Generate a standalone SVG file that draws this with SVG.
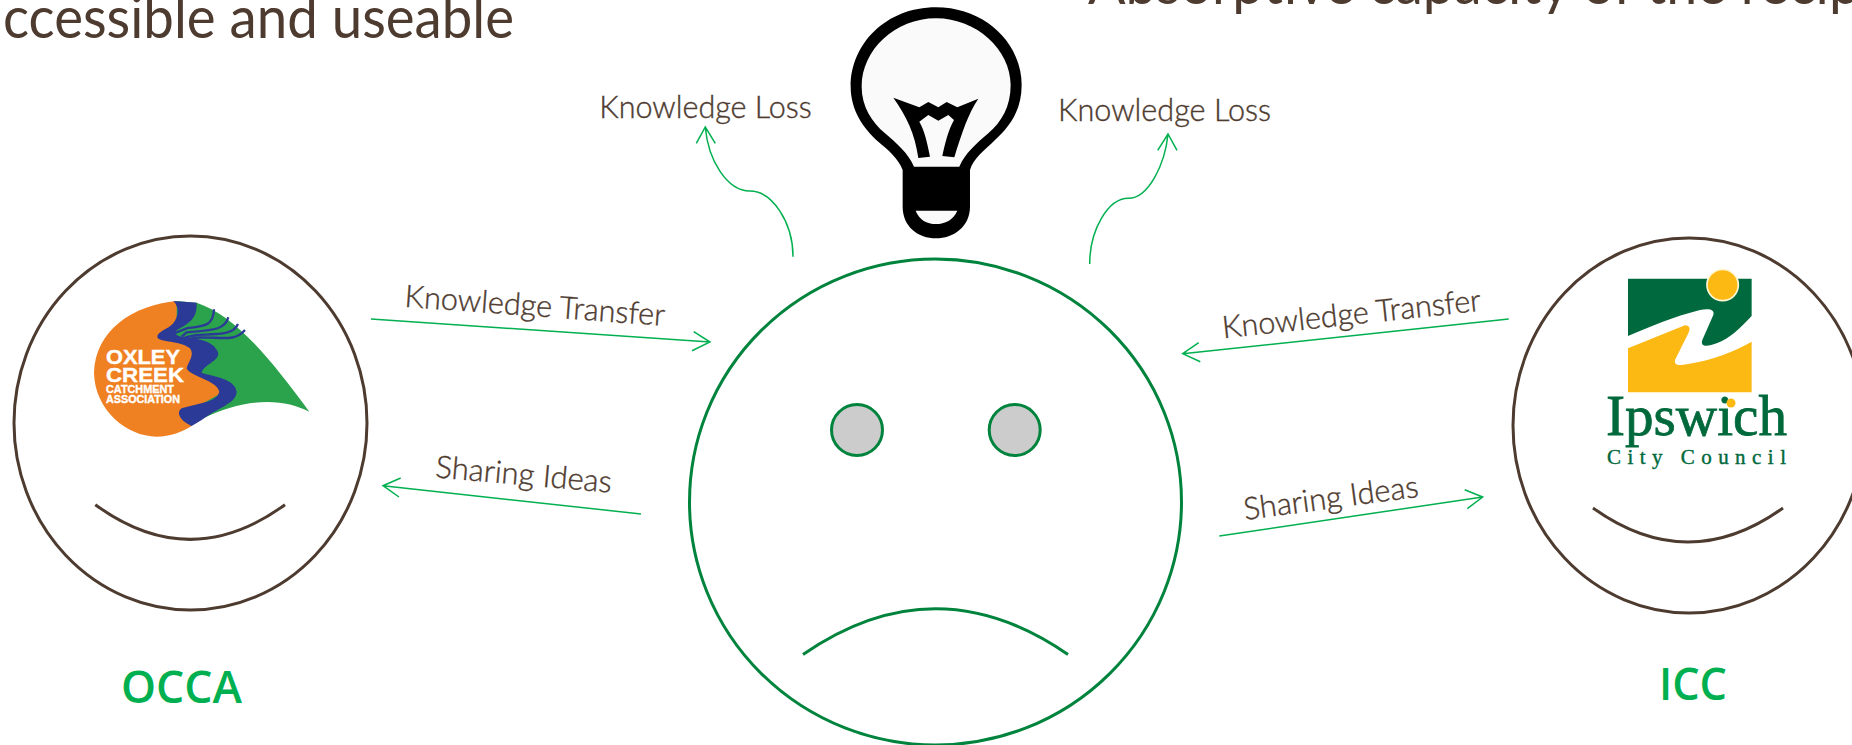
<svg xmlns="http://www.w3.org/2000/svg" width="1852" height="745" viewBox="0 0 1852 745">
<style>
.t{font-family:"Lato","Open Sans","Liberation Sans",sans-serif;fill:#4e3b30}
.lb{font-size:31px;font-weight:300;stroke:#4e3b30;stroke-width:.4}
.top{font-size:58px}
.face{fill:#fff;stroke:#4e3b30;stroke-width:3}
.smile{fill:none;stroke:#4e3b30;stroke-width:3}
.sad{fill:none;stroke:#00843d;stroke-width:3}
.eye{fill:#cccccc;stroke:#00843d;stroke-width:3}
.conn{fill:none;stroke:#00b050;stroke-width:1.5}
.name{font-family:"Open Sans","Liberation Sans",sans-serif;font-weight:600;font-size:46px;fill:#00b050}
.ol{font-family:"Liberation Sans",sans-serif;font-weight:700;fill:#fff;stroke:#fff;stroke-width:.4}
.iw{font-family:"Liberation Serif",serif;fill:#00693c}
</style>
<rect width="1852" height="745" fill="#fff"/>
<text class="t top" x="3" y="38" textLength="511" lengthAdjust="spacingAndGlyphs">ccessible and useable</text>
<text class="t top" x="1088" y="4" textLength="772" lengthAdjust="spacingAndGlyphs">Absorptive capacity of the recip</text>
<g id="occa">
<ellipse class="face" cx="190.500" cy="423" rx="176.500" ry="187"/>
<path class="smile" d="M95.300 504.700Q190 574 285 504.700"/>
<g transform="translate(0 220) scale(.3333)">
<path fill="#2ba24c" d="M530 243L590 248C700 285 800 400 928 575C850 535 740 530 600 600L505 340Z"/>
<path fill="#f08122" d="M530 243C400 255 285 330 282 460C285 570 380 650 470 650C510 650 550 635 575 618L600 555L680 510L585 450L620 400L575 380L500 345L530 300Z"/>
<path fill="#2b3a96" d="M520 243C540 262 535 290 520 310C505 328 470 335 472 352C478 368 540 362 570 385C585 405 565 425 560 445C570 470 650 480 658 515C650 548 590 550 545 565C525 580 545 605 575 618L605 600C650 565 710 550 710 515C705 475 640 470 605 458C610 435 655 425 655 400C645 365 600 355 545 350C520 345 520 335 540 325C575 305 592 290 590 248Z"/>
<path fill="none" stroke="#2b3a96" stroke-width="7" d="M642 268C640 320 610 318 560 325L522 340M685 292C675 330 640 330 560 337L545 350M714 312C700 345 660 342 590 345L555 352M735 330C705 365 670 352 600 352L575 355"/>
</g>
<text class="ol" x="106" y="363.500" font-size="21" textLength="74" lengthAdjust="spacingAndGlyphs">OXLEY</text>
<text class="ol" x="106" y="381.500" font-size="21" textLength="78" lengthAdjust="spacingAndGlyphs">CREEK</text>
<text class="ol" x="106" y="392.800" font-size="11.500" textLength="68" lengthAdjust="spacingAndGlyphs">CATCHMENT</text>
<text class="ol" x="106" y="403.200" font-size="11.500" textLength="74" lengthAdjust="spacingAndGlyphs">ASSOCIATION</text>
<text class="name" x="121" y="702.500" textLength="121" lengthAdjust="spacingAndGlyphs">OCCA</text>
</g>
<g id="center">
<ellipse cx="935.500" cy="502" rx="246" ry="243" fill="#fff" stroke="#00843d" stroke-width="3"/>
<circle class="eye" cx="857" cy="430" r="25.500"/>
<circle class="eye" cx="1014.700" cy="430" r="25.500"/>
<path class="sad" d="M803 654.500Q935.500 563 1068 654.500"/>
</g>
<g id="bulb" transform="translate(820 0) scale(.3333)">
<path d="M348 22C200 22 92 130 92 260C92 330 130 385 175 425C205 450 235 475 248 510L248 620C248 680 295 715 348 715C400 715 450 680 450 620L450 510C460 475 495 450 525 420C570 380 605 330 605 255C605 130 495 22 348 22Z"/>
<path fill="#fafafa" d="M348 55C225 55 125 150 125 260C125 320 155 365 195 400C230 430 265 460 282 500L418 500C435 460 470 430 505 400C545 365 572 320 572 255C572 150 470 55 348 55Z"/>
<path d="M220 293L298 322L325 306L355 322L380 306L412 322L475 296C445 340 425 400 403 472L367 468C375 430 385 390 402 360L385 345L355 362L325 345L298 365C315 395 322 430 330 470L295 474C285 400 260 350 220 293Z"/>
<path fill="#fafafa" d="M287 632L412 632C400 660 375 672 348 672C320 672 298 660 287 632Z"/>
</g>
<g id="icc">
<ellipse class="face" cx="1689" cy="425.500" rx="176" ry="187.500"/>
<path class="smile" d="M1593 508Q1688 576 1783 508"/>
<g transform="translate(1500 230) scale(.3333)">
<path fill="#fdb913" d="M384 355L555 286C570 288 572 295 565 310L525 390C522 405 535 408 560 403C640 390 700 365 755 335L755 487L384 487Z"/>
<path fill="#006a3e" d="M384 146L755 146L755 258C720 295 690 325 650 340C620 352 600 350 607 330L640 255C645 240 630 235 600 240C520 260 450 290 384 318Z"/>
<circle cx="668" cy="165" r="47" fill="#fdb913" stroke="#fff8d6" stroke-width="5"/>
</g>
<text class="iw" x="1606" y="435" font-size="58" stroke="#00693c" stroke-width=".8" textLength="181" lengthAdjust="spacingAndGlyphs">Ipswich</text>
<circle cx="1731" cy="403" r="4.500" fill="#fdb913"/>
<text class="iw" x="1607" y="464.300" font-size="21" stroke="#00693c" stroke-width=".4" textLength="179">City Council</text>
<text class="name" x="1659" y="700" textLength="68" lengthAdjust="spacingAndGlyphs">ICC</text>
</g>
<g id="connectors">
<path class="conn" d="M371 319L710 342M693.700 331.700L710 342L692 350.700"/>
<path class="conn" d="M641 514L383 485.700M400.700 478L383 485.700L399 497"/>
<path class="conn" d="M1508.700 319L1182.700 353.700M1198.700 342.700L1182.700 353.700L1200.300 361.700"/>
<path class="conn" d="M1219.300 536L1482.700 497M1464.700 489.700L1482.700 497L1467.300 508.700"/>
<path class="conn" d="M793 256.700C793 222 772 191 750 191C727 191 708 160 705.300 127M696.300 143.300L705.300 127L715.300 143.300"/>
<path class="conn" d="M1089.700 264C1089.700 230 1108 198.300 1128.300 198.300C1148 198.300 1165 165 1168 134M1157.700 150.300L1168 134L1177 150.300"/>
</g>
<g id="labels">
<text class="t lb" x="599.300" y="118.300" textLength="212.500" lengthAdjust="spacingAndGlyphs">Knowledge Loss</text>
<text class="t lb" x="1058" y="121" textLength="213" lengthAdjust="spacingAndGlyphs">Knowledge Loss</text>
<text class="t lb" transform="translate(404 306.700) rotate(4.200)" textLength="261" lengthAdjust="spacingAndGlyphs">Knowledge Transfer</text>
<text class="t lb" transform="translate(434.700 477.300) rotate(5)" textLength="177" lengthAdjust="spacingAndGlyphs">Sharing Ideas</text>
<text class="t lb" transform="translate(1223.300 338.300) rotate(-6.100)" textLength="260" lengthAdjust="spacingAndGlyphs">Knowledge Transfer</text>
<text class="t lb" transform="translate(1245 520) rotate(-7.600)" textLength="176" lengthAdjust="spacingAndGlyphs">Sharing Ideas</text>
</g>
</svg>
